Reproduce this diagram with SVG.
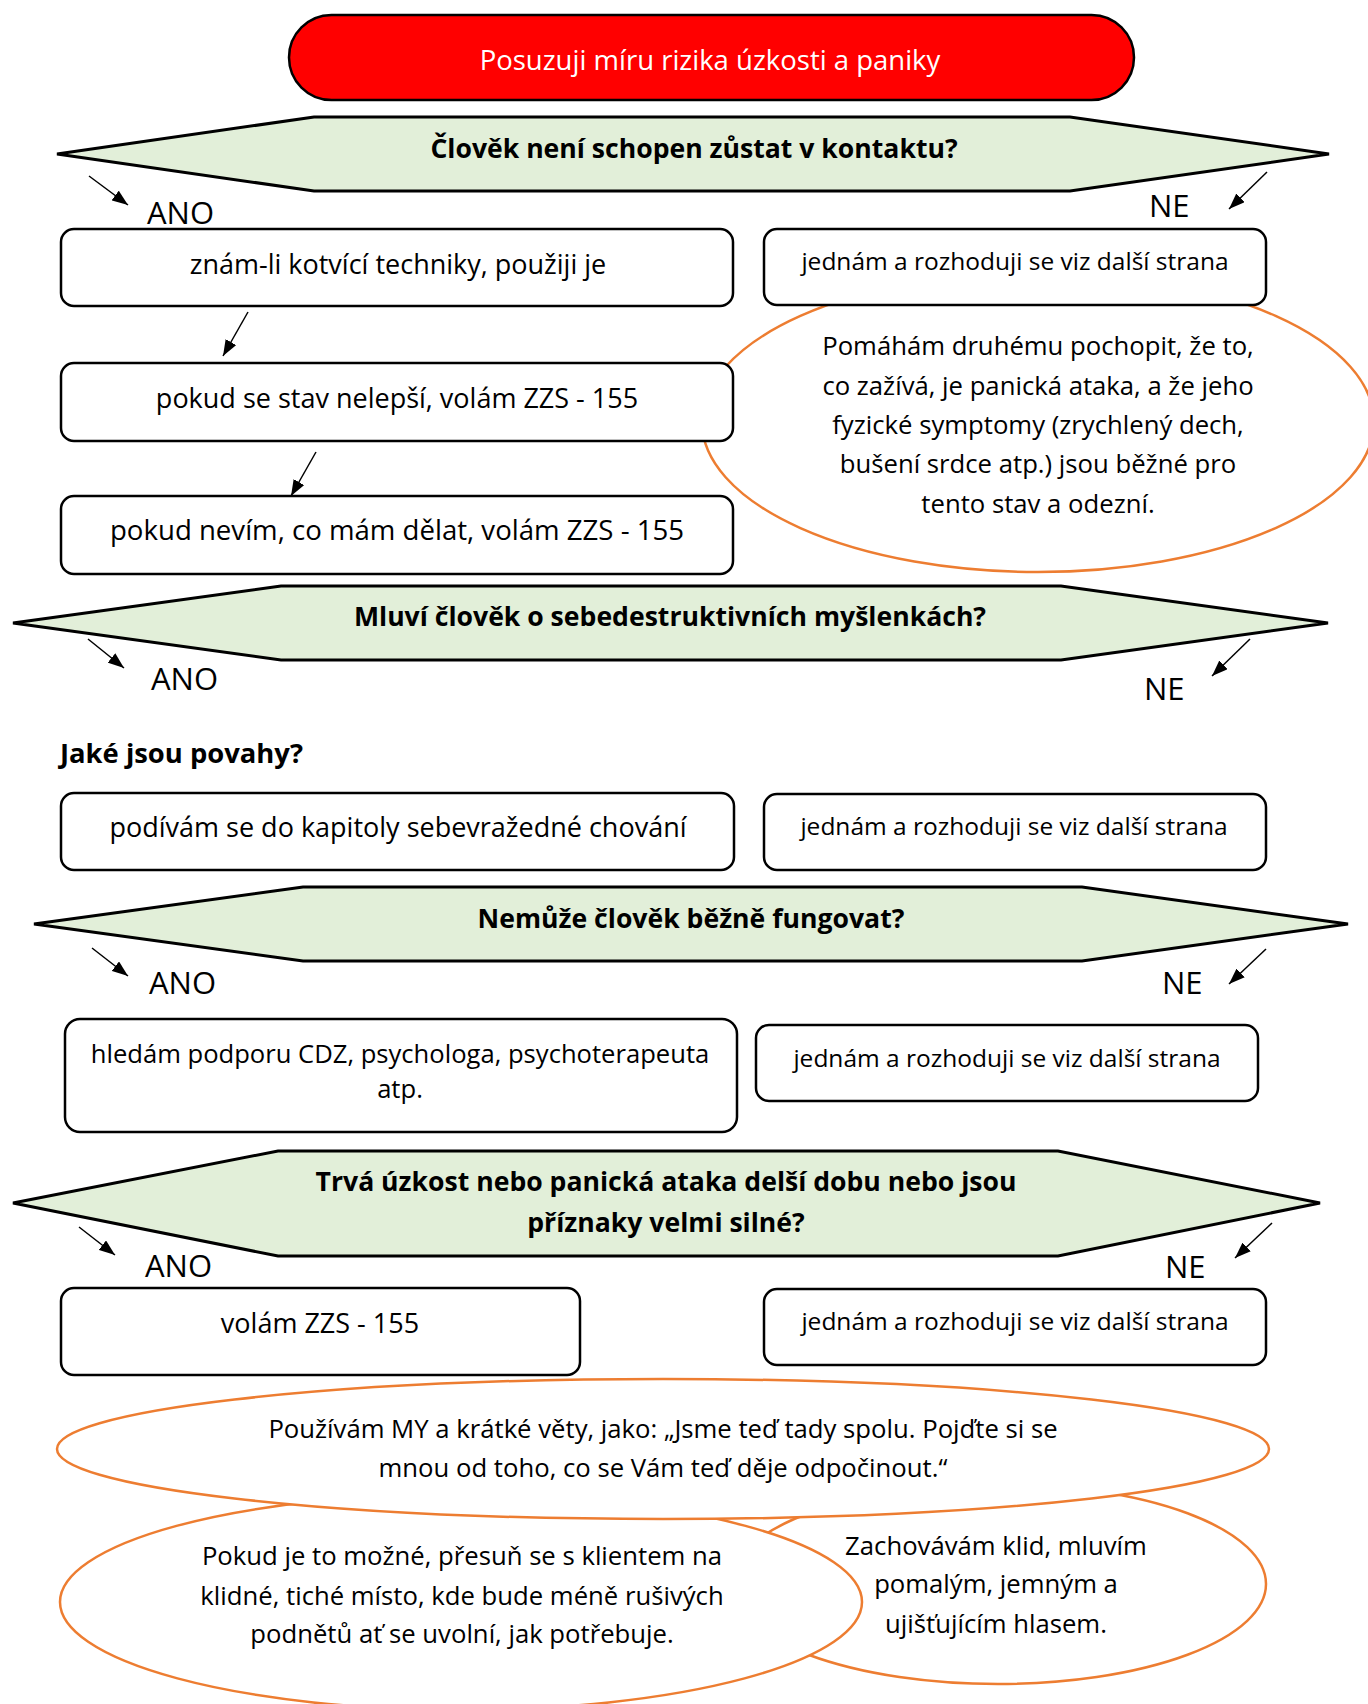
<svg xmlns="http://www.w3.org/2000/svg" width="1368" height="1704" viewBox="0 0 1368 1704">
  <defs>
    <marker id="arrowhead" viewBox="0 0 16 12" refX="16" refY="6" markerWidth="16" markerHeight="12" markerUnits="userSpaceOnUse" orient="auto">
      <path d="M0,0 L16,6 L0,12 z" fill="#000"/>
    </marker>
    <style>
      text { font-family: "Open Sans", "Noto Sans", "DejaVu Sans", sans-serif; fill: #000; }
      .start { fill: #ff0000; stroke: #000; stroke-width: 2.5; }
      .start-label { fill: #fff; font-size: 27.5px; text-anchor: middle; }
      .decision { fill: #e2efd9; stroke: #000; stroke-width: 3; stroke-linejoin: miter; }
      .q { font-size: 26.6px; font-weight: bold; text-anchor: middle; }
      .box { fill: #fff; stroke: #000; stroke-width: 2.5; }
      .t-left { font-size: 27px; text-anchor: middle; }
      .t-right { font-size: 24.5px; text-anchor: middle; }
      .bubble { fill: #fff; stroke: #ed7d31; stroke-width: 2.5; }
      .t-bubble { font-size: 25.7px; text-anchor: middle; }
      .branch { font-size: 31px; }
      .edge { stroke: #000; stroke-width: 1.5; fill: none; marker-end: url(#arrowhead); }
    </style>
  </defs>

  <rect width="1368" height="1704" fill="#fff"/>

  <!-- start -->
  <g id="start">
    <rect class="start" x="289" y="15" width="845" height="85" rx="42.5" ry="42.5"/>
    <text class="start-label" x="710" y="70">Posuzuji míru rizika úzkosti a paniky</text>
  </g>

  <!-- question 1 -->
  <g id="q1">
    <polygon class="decision" points="57,154 314,117 1070,117 1329,154 1070,191 314,191"/>
    <text class="q" x="694" y="158">Člověk není schopen zůstat v kontaktu?</text>
  </g>

  <!-- explanatory bubble sits behind the boxes -->
  <g id="bubble-panic">
    <ellipse class="bubble" cx="1038" cy="422" rx="336" ry="150"/>
    <text class="t-bubble" x="1038" y="355">Pomáhám druhému pochopit, že to,</text>
    <text class="t-bubble" x="1038" y="395">co zažívá, je panická ataka, a že jeho</text>
    <text class="t-bubble" x="1038" y="434">fyzické symptomy (zrychlený dech,</text>
    <text class="t-bubble" x="1038" y="473">bušení srdce atp.) jsou běžné pro</text>
    <text class="t-bubble" x="1038" y="513">tento stav a odezní.</text>
  </g>

  <g id="q1-yes-1">
    <rect class="box" x="61" y="229" width="672" height="77" rx="13"/>
    <text class="t-left" x="398" y="274">znám-li kotvící techniky, použiji je</text>
  </g>
  <g id="q1-no">
    <rect class="box" x="764" y="229" width="502" height="76" rx="13"/>
    <text class="t-right" x="1015" y="270">jednám a rozhoduji se viz další strana</text>
  </g>
  <g id="q1-yes-2">
    <rect class="box" x="61" y="363" width="672" height="78" rx="13"/>
    <text class="t-left" x="397" y="408">pokud se stav nelepší, volám ZZS - 155</text>
  </g>
  <g id="q1-yes-3">
    <rect class="box" x="61" y="496" width="672" height="78" rx="13"/>
    <text class="t-left" x="397" y="540" style="font-size:27.6px">pokud nevím, co mám dělat, volám ZZS - 155</text>
  </g>

  <!-- question 2 -->
  <g id="q2">
    <polygon class="decision" points="13,623 281,586 1061,586 1328,623 1061,660 281,660"/>
    <text class="q" x="670" y="626">Mluví člověk o sebedestruktivních myšlenkách?</text>
  </g>
  <g id="q2-note">
    <text class="q" x="60" y="763" style="text-anchor:start;font-size:27.4px">Jaké jsou povahy?</text>
  </g>
  <g id="q2-yes">
    <rect class="box" x="61" y="793" width="673" height="77" rx="13"/>
    <text class="t-left" x="398" y="837">podívám se do kapitoly sebevražedné chování</text>
  </g>
  <g id="q2-no">
    <rect class="box" x="764" y="794" width="502" height="76" rx="13"/>
    <text class="t-right" x="1014" y="835">jednám a rozhoduji se viz další strana</text>
  </g>

  <!-- question 3 -->
  <g id="q3">
    <polygon class="decision" points="34,924 303,887 1082,887 1348,924 1082,961 303,961"/>
    <text class="q" x="691" y="928">Nemůže člověk běžně fungovat?</text>
  </g>
  <g id="q3-yes">
    <rect class="box" x="65" y="1019" width="672" height="113" rx="15"/>
    <text class="t-left" x="400" y="1063" style="font-size:25.6px">hledám podporu CDZ, psychologa, psychoterapeuta</text>
    <text class="t-left" x="400" y="1098" style="font-size:25.6px">atp.</text>
  </g>
  <g id="q3-no">
    <rect class="box" x="756" y="1025" width="502" height="76" rx="13"/>
    <text class="t-right" x="1007" y="1067">jednám a rozhoduji se viz další strana</text>
  </g>

  <!-- question 4 -->
  <g id="q4">
    <polygon class="decision" points="13,1203 278,1151 1058,1151 1320,1203 1058,1256 278,1256"/>
    <text class="q" x="666" y="1191">Trvá úzkost nebo panická ataka delší dobu nebo jsou</text>
    <text class="q" x="666" y="1232">příznaky velmi silné?</text>
  </g>
  <g id="q4-yes">
    <rect class="box" x="61" y="1288" width="519" height="87" rx="13"/>
    <text class="t-left" x="320" y="1333">volám ZZS - 155</text>
  </g>
  <g id="q4-no">
    <rect class="box" x="764" y="1289" width="502" height="76" rx="13"/>
    <text class="t-right" x="1015" y="1330">jednám a rozhoduji se viz další strana</text>
  </g>

  <!-- communication tips -->
  <g id="bubble-calm">
    <ellipse class="bubble" cx="998" cy="1584" rx="268" ry="100"/>
    <text class="t-bubble" x="996" y="1555">Zachovávám klid, mluvím</text>
    <text class="t-bubble" x="996" y="1593">pomalým, jemným a</text>
    <text class="t-bubble" x="996" y="1633">ujišťujícím hlasem.</text>
  </g>
  <g id="bubble-place">
    <ellipse class="bubble" cx="461" cy="1602" rx="401" ry="108"/>
    <text class="t-bubble" x="462" y="1565">Pokud je to možné, přesuň se s klientem na</text>
    <text class="t-bubble" x="462" y="1605">klidné, tiché místo, kde bude méně rušivých</text>
    <text class="t-bubble" x="462" y="1643">podnětů ať se uvolní, jak potřebuje.</text>
  </g>
  <g id="bubble-we">
    <ellipse class="bubble" cx="663" cy="1449" rx="606" ry="70"/>
    <text class="t-bubble" x="663" y="1438">Používám MY a krátké věty, jako: „Jsme teď tady spolu. Pojďte si se</text>
    <text class="t-bubble" x="663" y="1477">mnou od toho, co se Vám teď děje odpočinout.“</text>
  </g>

  <!-- branch labels -->
  <g id="labels">
    <text class="branch" x="147" y="224">ANO</text>
    <text class="branch" x="1149" y="217">NE</text>
    <text class="branch" x="151" y="690">ANO</text>
    <text class="branch" x="1144" y="700">NE</text>
    <text class="branch" x="149" y="994">ANO</text>
    <text class="branch" x="1162" y="994">NE</text>
    <text class="branch" x="145" y="1277">ANO</text>
    <text class="branch" x="1165" y="1278">NE</text>
  </g>

  <!-- connectors -->
  <g id="connectors">
    <line class="edge" x1="89" y1="176" x2="128" y2="205"/>
    <line class="edge" x1="1267" y1="172" x2="1229" y2="209"/>
    <line class="edge" x1="248" y1="312" x2="223" y2="356"/>
    <line class="edge" x1="316" y1="452" x2="291" y2="496"/>
    <line class="edge" x1="88" y1="639" x2="124" y2="668"/>
    <line class="edge" x1="1250" y1="639" x2="1212" y2="676"/>
    <line class="edge" x1="92" y1="948" x2="128" y2="976"/>
    <line class="edge" x1="1266" y1="949" x2="1229" y2="984"/>
    <line class="edge" x1="79" y1="1227" x2="115" y2="1255"/>
    <line class="edge" x1="1272" y1="1223" x2="1235" y2="1258"/>
  </g>
</svg>
